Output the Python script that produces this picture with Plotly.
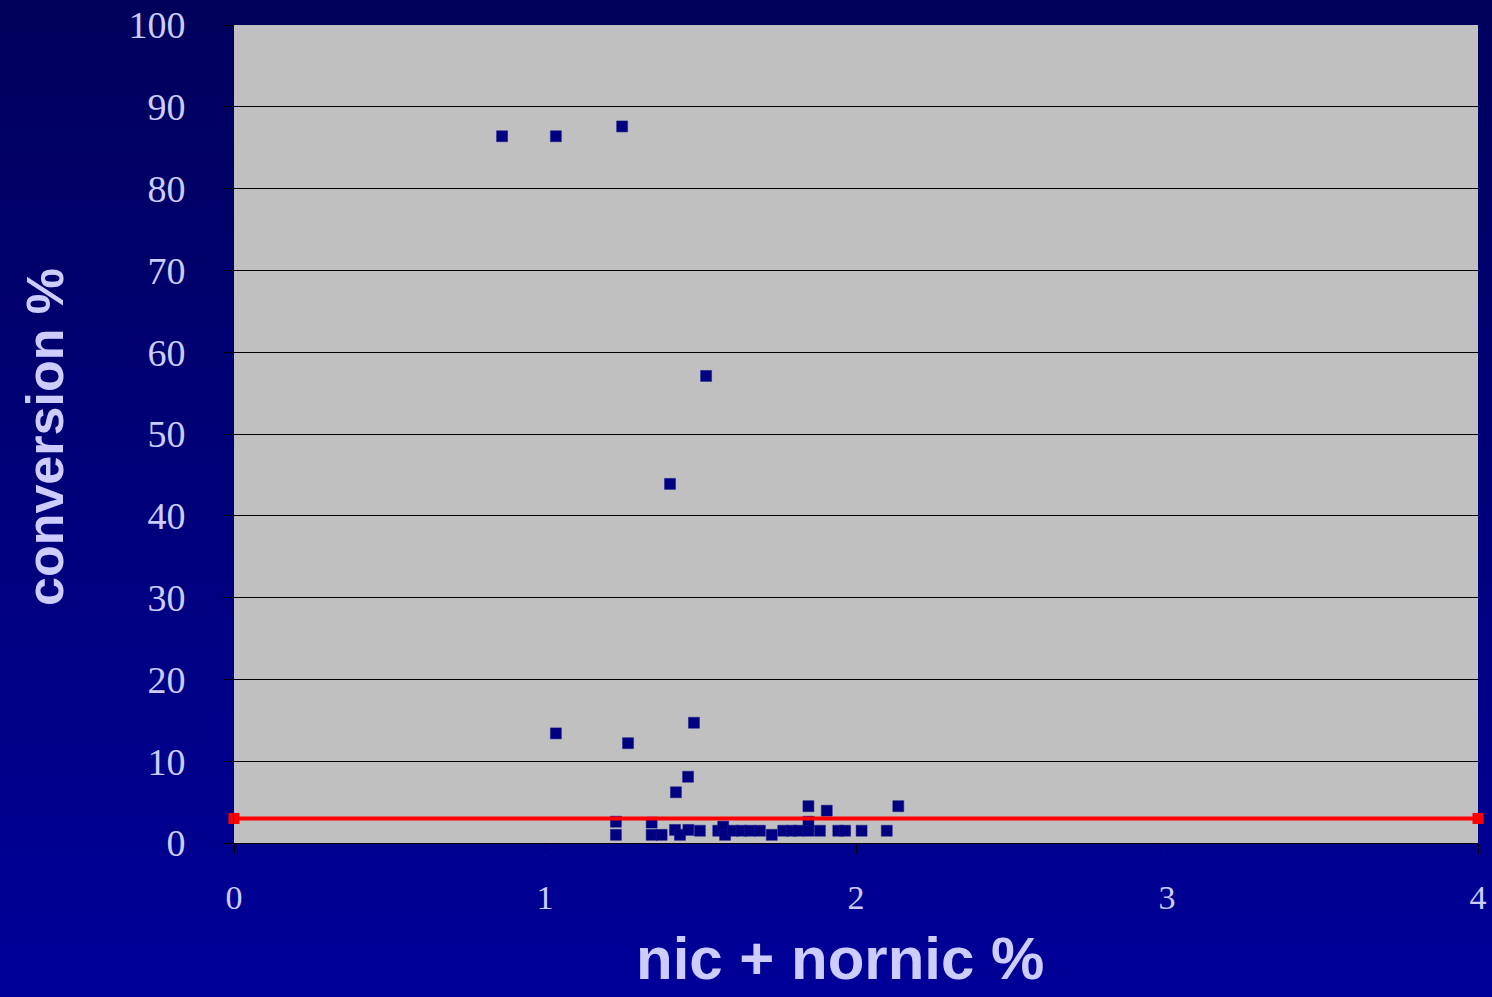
import plotly.graph_objects as go

# data: nic + nornic % vs conversion %
nic_nornic = [0.862, 1.035, 1.248, 1.518, 1.402, 1.035, 1.479, 1.267, 1.460, 1.421,
              1.847, 1.906, 2.136,
              1.228, 1.228, 1.343, 1.343, 1.375, 1.418, 1.434, 1.461, 1.498, 1.557,
              1.573, 1.579, 1.605, 1.632, 1.659, 1.691, 1.729, 1.766, 1.793, 1.815,
              1.847, 1.847, 1.884, 1.943, 1.965, 2.018, 2.099]
conversion = [86.4, 86.4, 87.6, 57.1, 43.9, 13.4, 14.7, 12.2, 8.1, 6.2,
              4.5, 3.95, 4.5,
              2.6, 1.0, 2.5, 1.0, 1.0, 1.6, 1.0, 1.6, 1.5, 1.5,
              2.0, 1.0, 1.5, 1.5, 1.5, 1.5, 1.0, 1.5, 1.5, 1.5,
              2.6, 1.5, 1.5, 1.5, 1.5, 1.5, 1.5]

threshold_x = [0, 4]
threshold_y = [3, 3]

x_ticks = [0, 1, 2, 3, 4]
y_ticks = [0, 10, 20, 30, 40, 50, 60, 70, 80, 90, 100]

W, H = 1492, 997
L, R, T, B = 234, 14, 25, 154
pw, ph = W - L - R, H - T - B

fig = go.Figure()
fig.add_trace(go.Scatter(
    x=nic_nornic, y=conversion, mode="markers",
    marker=dict(symbol="square", size=11, color="#000080",
                line=dict(color="#1a1a8c", width=0.5)),
    showlegend=False, cliponaxis=False))
fig.add_trace(go.Scatter(
    x=threshold_x, y=threshold_y, mode="lines+markers",
    line=dict(color="#FF0000", width=4),
    marker=dict(symbol="square", size=11, color="#FF0000"),
    showlegend=False, cliponaxis=False))

# vertical gradient background (paper)
shapes = []
n = 60
y0p = -B / ph
y1p = 1 + T / ph
x0p = -L / pw
x1p = 1 + R / pw
top = (0, 0, 92)
bot = (0, 0, 152)
for i in range(n):
    f = i / (n - 1)
    c = tuple(int(round(top[k] + (bot[k] - top[k]) * f)) for k in range(3))
    ya = y1p - (y1p - y0p) * i / n
    yb = y1p - (y1p - y0p) * (i + 1) / n
    shapes.append(dict(type="rect", xref="paper", yref="paper",
                       x0=x0p - 0.01, x1=x1p + 0.01, y0=yb - 0.002, y1=ya + 0.002,
                       fillcolor="rgb(%d,%d,%d)" % c, line=dict(width=0),
                       layer="below"))
# plot area fill
shapes.append(dict(type="rect", xref="paper", yref="paper", x0=0, x1=1, y0=0, y1=1,
                   fillcolor="#C0C0C0", line=dict(width=0), layer="below"))

tick_font = dict(family="Liberation Serif, Times New Roman, serif", size=38, color="#CCCCFF")

fig.update_layout(
    width=W, height=H, autosize=False,
    margin=dict(l=L, r=R, t=T, b=B, pad=0, autoexpand=False),
    paper_bgcolor="rgb(0,0,120)",
    plot_bgcolor="#C0C0C0",
    shapes=shapes,
    xaxis=dict(range=[0, 4], tickvals=x_ticks, showgrid=False, zeroline=False,
               automargin=False,
               showline=True, linecolor="black", linewidth=1,
               ticks="outside", ticklen=10, tickcolor="black",
               tickfont=dict(family="Liberation Serif, Times New Roman, serif", size=34, color="#CCCCFF"),
               ticklabelstandoff=14),
    yaxis=dict(range=[0, 100], tickvals=y_ticks, showgrid=True, gridcolor="black",
               gridwidth=1, zeroline=False, automargin=False,
               showline=True, linecolor="black", linewidth=1,
               ticks="outside", ticklen=10, tickcolor="black",
               tickfont=tick_font, ticklabelstandoff=30),
    annotations=[
        dict(text="<b>conversion %</b>", xref="paper", yref="paper",
             x=(45 - L) / pw, y=1 - (437 - T) / ph, textangle=-90,
             showarrow=False, xanchor="center", yanchor="middle",
             font=dict(family="Liberation Sans, Arial, sans-serif", size=52, color="#CCCCFF")),
        dict(text="<b>nic + nornic %</b>", xref="paper", yref="paper",
             x=(840 - L) / pw, y=1 - (958 - T) / ph,
             showarrow=False, xanchor="center", yanchor="middle",
             font=dict(family="Liberation Sans, Arial, sans-serif", size=60, color="#CCCCFF")),
    ],
)

fig.write_html(
    "out.html",
    config={"displayModeBar": False, "responsive": False},
    post_script=(
        "document.documentElement.style.margin='0';"
        "document.body.style.margin='0';document.body.style.padding='0';"
        "document.body.style.overflow='hidden';"
        "var gd=document.getElementById('{plot_id}');"
        "gd.style.width='1492px';gd.style.height='997px';"
        "Plotly.relayout(gd,{width:1492,height:997});"
    ),
)
